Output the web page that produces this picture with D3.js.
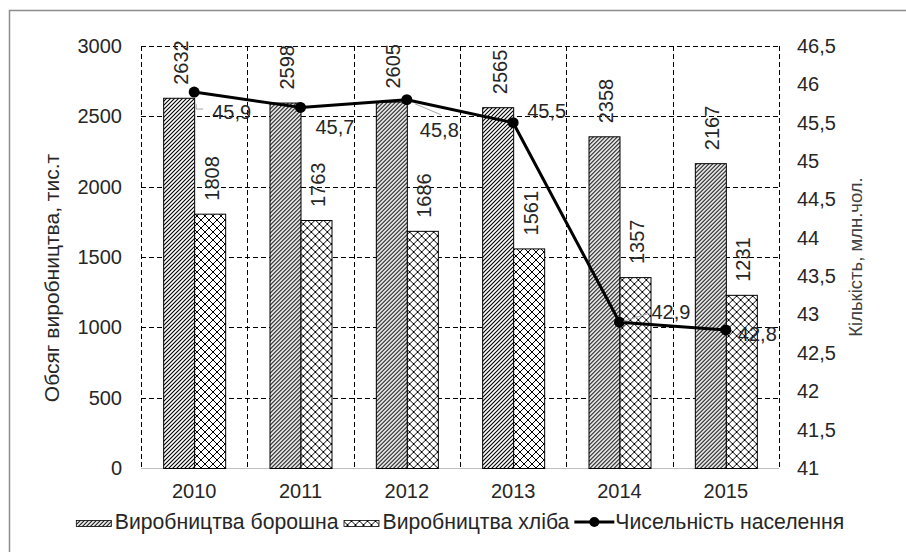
<!DOCTYPE html>
<html>
<head>
<meta charset="UTF-8">
<title>Борошно, хліб, населення</title>
<script src="https://d3js.org/d3.v7.min.js"></script>
<style>
    body { margin: 0; padding: 0; background: #fff; }
    text { font-family: 'Liberation Sans', Arial, sans-serif; font-size: 20px; fill: #262626; }
</style>
</head>
<body>
<svg width="906" height="552"></svg>
<script>
    // data
    const years = ["2010", "2011", "2012", "2013", "2014", "2015"];
    const flour = [2632, 2598, 2605, 2565, 2358, 2167];
    const bread = [1808, 1763, 1686, 1561, 1357, 1231];
    const population = [45.9, 45.7, 45.8, 45.5, 42.9, 42.8];
    const popLabels = ["45,9", "45,7", "45,8", "45,5", "42,9", "42,8"];
    const leftTicks = [0, 500, 1000, 1500, 2000, 2500, 3000];
    const rightTicks = [41, 41.5, 42, 42.5, 43, 43.5, 44, 44.5, 45, 45.5, 46, 46.5];
    const seriesNames = ["Виробництва борошна", "Виробництва хліба", "Чисельність населення"];

    // label placement for the line values (dx, dy from point)
    const popLblPos = [[18, 27], [15, 27], [13, 37], [14, -5], [32, -3], [12, 11]];

    const svg = d3.select("svg");
    const L = 141, R = 779, T = 46, B = 468;

    // patterns
    const defs = svg.append("defs");
    const p1 = defs.append("pattern").attr("id", "hatch")
        .attr("patternUnits", "userSpaceOnUse").attr("width", 4).attr("height", 4);
    p1.append("rect").attr("width", 4).attr("height", 4).attr("fill", "#fff");
    p1.append("path").attr("d", "M-1,1 l2,-2 M0,4 l4,-4 M3,5 l2,-2")
        .attr("stroke", "#000").attr("stroke-width", 1.1);
    const p2 = defs.append("pattern").attr("id", "cross")
        .attr("patternUnits", "userSpaceOnUse").attr("width", 8).attr("height", 8);
    p2.append("rect").attr("width", 8).attr("height", 8).attr("fill", "#fff");
    p2.append("path").attr("d", "M0,0 L8,8 M8,0 L0,8")
        .attr("stroke", "#000").attr("stroke-width", 1);

    // outer frame
    svg.append("rect").attr("x", 9.5).attr("y", 10.5).attr("width", 1000).attr("height", 1000)
        .attr("fill", "none").attr("stroke", "#8c8c8c").attr("stroke-width", 1.5);

    const x0 = d3.scaleBand().domain(years).range([L, R]).padding(0);
    const x1 = d3.scaleBand().domain(["flour", "bread"]).range([0, x0.bandwidth()])
        .paddingInner(0).paddingOuter(0.715);
    const yL = d3.scaleLinear().domain([0, 3000]).range([B, T]);
    const yR = d3.scaleLinear().domain([41, 46.5]).range([B, T]);

    // grid
    const grid = svg.append("g").attr("stroke", "#000").attr("stroke-width", 1)
        .attr("stroke-dasharray", "5,3").attr("fill", "none");
    grid.selectAll("line.h").data(leftTicks.filter(d => d > 0)).enter().append("line")
        .attr("x1", L).attr("x2", R)
        .attr("y1", d => Math.round(yL(d)) + 0.5).attr("y2", d => Math.round(yL(d)) + 0.5);
    const vx = years.map(d => x0(d)).concat([R]);
    grid.selectAll("line.v").data(vx).enter().append("line")
        .attr("x1", d => Math.round(d) + 0.5).attr("x2", d => Math.round(d) + 0.5)
        .attr("y1", T).attr("y2", B);

    // baseline
    svg.append("line").attr("x1", L).attr("x2", R).attr("y1", B + 0.5).attr("y2", B + 0.5)
        .attr("stroke", "#bfbfbf").attr("stroke-width", 1);

    // bars
    const rows = years.map((y, i) => ({ year: y, flour: flour[i], bread: bread[i] }));
    const groups = svg.selectAll("g.yr").data(rows).enter().append("g")
        .attr("transform", d => "translate(" + x0(d.year) + ",0)");
    groups.selectAll("rect").data(d => [
        { k: "flour", v: d.flour }, { k: "bread", v: d.bread }
    ]).enter().append("rect")
        .attr("x", d => x1(d.k) + 0.5)
        .attr("y", d => yL(d.v) + 0.5)
        .attr("width", x1.bandwidth())
        .attr("height", d => B - yL(d.v))
        .attr("fill", d => d.k == "flour" ? "url(#hatch)" : "url(#cross)")
        .attr("stroke", "#000").attr("stroke-width", 1);
    groups.selectAll("text").data(d => [
        { k: "flour", v: d.flour }, { k: "bread", v: d.bread }
    ]).enter().append("text")
        .attr("transform", d => "translate(" + (x1(d.k) + x1.bandwidth() / 2 + 2) + "," + (yL(d.v) - 13) + ") rotate(-90)")
        .attr("dy", "0.35em")
        .text(d => d.v);

    // line
    const lineGen = d3.line()
        .x((d, i) => x0(years[i]) + x0.bandwidth() / 2)
        .y(d => yR(d));
    svg.append("path").datum(population).attr("d", lineGen)
        .attr("fill", "none").attr("stroke", "#000").attr("stroke-width", 3)
        .attr("stroke-linejoin", "round");
    svg.selectAll("circle.pt").data(population).enter().append("circle")
        .attr("cx", (d, i) => x0(years[i]) + x0.bandwidth() / 2)
        .attr("cy", d => yR(d)).attr("r", 5.5).attr("fill", "#000");

    // leader lines for some labels
    const px = i => x0(years[i]) + x0.bandwidth() / 2;
    const lead = svg.append("g").attr("stroke", "#a6a6a6").attr("stroke-width", 1).attr("fill", "none");
    lead.append("path").attr("d", "M" + (px(0) + 2) + "," + (yR(population[0]) + 12) + " v5 h7");
    lead.append("line").attr("x1", px(2) + 8).attr("y1", yR(population[2]) + 4)
        .attr("x2", px(2) + 34).attr("y2", yR(population[2]) + 15);
    lead.append("line").attr("x1", px(4) + 4).attr("y1", yR(population[4]) - 1)
        .attr("x2", px(4) + 30).attr("y2", yR(population[4]) - 9);

    svg.selectAll("text.pl").data(popLabels).enter().append("text")
        .attr("x", (d, i) => px(i) + popLblPos[i][0])
        .attr("y", (d, i) => yR(population[i]) + popLblPos[i][1])
        .text(d => d);

    // axes
    const axL = svg.append("g").attr("transform", "translate(" + (L - 19) + ",0)")
        .call(d3.axisLeft(yL).tickValues(leftTicks).tickSize(0).tickPadding(0).tickFormat(d3.format("d")));
    const axR = svg.append("g").attr("transform", "translate(" + (R + 18) + ",0)")
        .call(d3.axisRight(yR).tickValues(rightTicks).tickSize(0).tickPadding(0)
            .tickFormat(d => String(d).replace(".", ",")));
    const axB = svg.append("g").attr("transform", "translate(0," + B + ")")
        .call(d3.axisBottom(x0).tickSize(0).tickPadding(16));
    [axL, axR, axB].forEach(a => {
        a.select(".domain").remove();
        a.selectAll("text").attr("font-size", null).attr("font-family", null).attr("fill", "#262626");
    });
    axB.selectAll("text").attr("dy", "0.71em");

    // axis titles
    svg.append("text").attr("transform", "translate(52,278) rotate(-90)")
        .attr("text-anchor", "middle").attr("dy", "0.35em").style("font-size", "21px")
        .text("Обсяг виробництва, тис.т");
    svg.append("text").attr("transform", "translate(856,257) rotate(-90)")
        .attr("text-anchor", "middle").attr("dy", "0.35em")
        .style("fill", "#404040").style("font-size", "18.5px")
        .text("Кількість, млн.чол.");

    // legend
    const lg = svg.append("g");
    let lx = 0;
    seriesNames.forEach((name, i) => {
        const g = lg.append("g").attr("transform", "translate(" + lx + ",0)");
        if (i < 2) {
            g.append("rect").attr("x", 0.5).attr("y", -8.5).attr("width", 35).attr("height", 6)
                .attr("fill", i == 0 ? "url(#hatch)" : "url(#cross)")
                .attr("stroke", "#000").attr("stroke-width", 0.8);
        } else {
            g.append("line").attr("x1", 0).attr("x2", 40).attr("y1", -7).attr("y2", -7)
                .attr("stroke", "#000").attr("stroke-width", 3);
            g.append("circle").attr("cx", 20).attr("cy", -7).attr("r", 5).attr("fill", "#000");
        }
        const off = i < 2 ? 39 : 41;
        const t = g.append("text").attr("x", off).attr("y", 0).style("font-size", "21.2px").text(name);
        lx += off + t.node().getComputedTextLength() + 5;
    });
    const lw = lx - 5;
    lg.attr("transform", "translate(" + ((L + R) / 2 - lw / 2) + ",529)");
</script>
</body>
</html>
